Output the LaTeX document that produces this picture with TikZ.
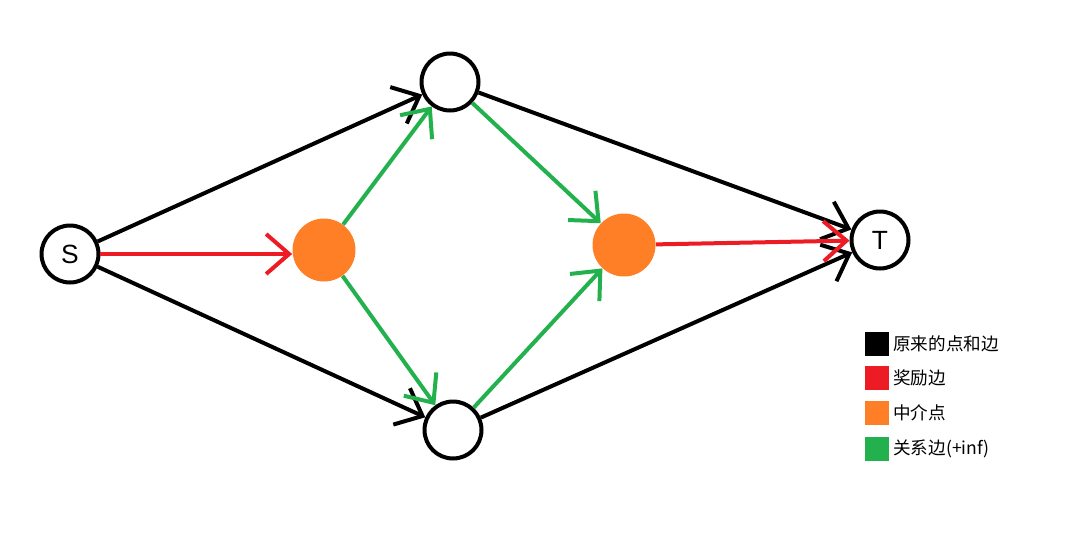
\documentclass[tikz,border=0pt]{standalone}
\usepackage{fontspec}
\setmainfont{Liberation Sans}
\newfontfamily\cjk{Noto Sans CJK SC}
\usetikzlibrary{arrows.meta}
\definecolor{pRed}{HTML}{ED1C24}
\definecolor{pOrange}{HTML}{FF7F27}
\definecolor{pGreen}{HTML}{22B14C}

\begin{document}
\begin{tikzpicture}[
  x=0.02cm, y=-0.02cm,
  vert/.style={draw, circle, line width=0.08cm, minimum size=1.14cm, inner sep=0pt, font=\fontsize{15}{15}\selectfont},
  mid/.style={circle, fill=pOrange, minimum size=1.26cm, inner sep=0pt},
  arrow/.style={-{Straight Barb[length=0.46cm, width=0.8cm]}, line width=0.08cm},
  key/.style={fill=#1, minimum size=0.48cm, inner sep=0pt},
  keytext/.style={anchor=west, font=\cjk\fontsize{10}{10}\selectfont, inner sep=0pt},
]
  \useasboundingbox (0,0) rectangle (1085,532);

  \node[vert] (s) at (70,254) {S};
  \node[vert] (up) at (450,82) {};
  \node[vert] (down) at (453,430) {};
  \node[vert] (t) at (880,240) {T};
  \node[mid] (m1) at (324,250) {};
  \node[mid] (m2) at (624,245) {};

  % original edges
  \draw[arrow] (s) -- (up);
  \draw[arrow] (s) -- (down);
  \draw[arrow] (up) -- (t);
  \draw[arrow] (down) -- (t);
  % reward edges
  \draw[arrow, pRed] (s.east) -- (s.east -| m1.west);
  \draw[arrow, pRed] (m2) -- (t);
  % relation edges
  \draw[arrow, pGreen] (m1) -- (up);
  \draw[arrow, pGreen] (m1) -- (down);
  \draw[arrow, pGreen] (up) -- (m2);
  \draw[arrow, pGreen] (down) -- (m2);

  % legend
  \node[key=black] (k1) at (877,344) {};
  \node[key=pRed] (k2) at (877,378) {};
  \node[key=pOrange] (k3) at (877,413) {};
  \node[key=pGreen] (k4) at (877,449) {};
  \node[keytext] (l1) at (893,344) {原来的点和边};
  \node[keytext] (l2) at (893,378) {奖励边};
  \node[keytext] (l3) at (893,413) {中介点};
  \node[keytext] (l4) at (893,449) {关系边(+inf)};
\end{tikzpicture}
\end{document}
